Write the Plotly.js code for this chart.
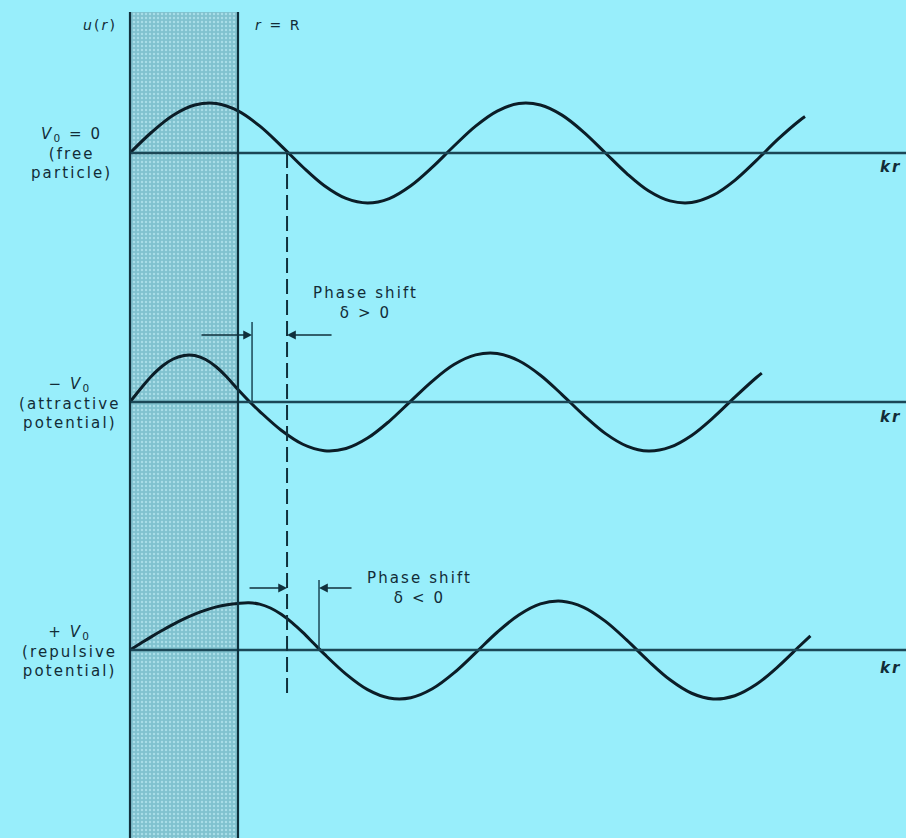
<!DOCTYPE html>
<html>
<head>
<meta charset="utf-8">
<script src="https://cdn.plot.ly/plotly-3.0.1.min.js"></script>
<style>
  html, body { margin: 0; padding: 0; background: #98eefb; }
  #chart { width: 906px; height: 838px; }
  .annotation-text { letter-spacing: 2.1px; }
</style>
</head>
<body>
<div id="chart"></div>
<script>
// kr in arbitrary units (R = 10), u(r) in amplitude units
const krFree = [0,2,4,6,8,10,12,14,16,18,20,22,24,26,28,30,32,34,36,38,40,42,44,46,48,50,52,54,56,58,60,62,62.5];
const uFree  = [0,0.415,0.755,0.959,0.990,0.842,0.542,0.144,-0.280,-0.655,-0.909,-1.000,-0.911,-0.655,-0.283,0.140,0.538,0.839,0.989,0.960,0.758,0.419,0.005,-0.411,-0.755,-0.958,-0.990,-0.844,-0.546,-0.148,0.276,0.650,0.728];

const krAttr = [0,1,2,3,4,5,5.5,6,7,8,9,10,11.1,12,14,16,18,20,22,24,26,28,30,32,34,36,38,40,42,44,46,48,50,52,54,56,58,58.5];
const uAttr  = [0,0.27,0.52,0.72,0.86,0.93,0.94,0.93,0.85,0.70,0.49,0.25,0,-0.186,-0.565,-0.845,-0.974,-0.931,-0.722,-0.386,0.018,0.419,0.749,0.942,0.970,0.825,0.536,0.149,-0.262,-0.627,-0.881,-0.980,-0.904,-0.668,-0.313,0.097,0.490,0.577];

const krRep = [0,1,2,3,4,5,6,7,8,9,10,11,12,13,14,15,16,17,18,20,22,24,26,28,30,32,34,36,38,40,42,44,46,48,50,52,54,56,58,60,62,63];
const uRep  = [0,0.135,0.268,0.394,0.514,0.622,0.718,0.799,0.862,0.905,0.932,0.945,0.918,0.840,0.714,0.548,0.351,0.134,-0.084,-0.482,-0.793,-0.960,-0.955,-0.776,-0.458,-0.057,0.355,0.700,0.922,0.976,0.854,0.577,0.197,-0.220,-0.596,-0.865,-0.978,-0.914,-0.686,-0.332,0.080,0.284];

const R = 10;           // r = R boundary
const krDashed = 14.54; // first node of the free-particle wave
const krNodeAttr = 11.3;
const krNodeRep = 17.5;

// vertical placement of the three panels (baselines)
const base = [0, -4.98, -9.94];
const yTop = 2.82, yBot = -13.8;
const xMin = -12.037, xMax = 71.85;

const curveColor = '#0b1d27';
const lineColor = '#1b4756';
const textColor = '#122c37';

function shift(arr, off) { return arr.map(v => v + off); }

const traces = [
  {
    type: 'bar', x: [R / 2], width: [R], base: [yBot], y: [yTop - yBot],
    marker: { color: '#80c2cf', line: { width: 0 },
      pattern: { shape: '.', fillmode: 'replace', bgcolor: '#80c2cf', fgcolor: '#a8dde7', size: 4, solidity: 0.3 } },
    hoverinfo: 'skip', showlegend: false
  },
  { type: 'scatter', mode: 'lines', x: krFree, y: shift(uFree, base[0]),
    line: { color: curveColor, width: 3, shape: 'spline' }, hoverinfo: 'skip', showlegend: false },
  { type: 'scatter', mode: 'lines', x: krAttr, y: shift(uAttr, base[1]),
    line: { color: curveColor, width: 3, shape: 'spline' }, hoverinfo: 'skip', showlegend: false },
  { type: 'scatter', mode: 'lines', x: krRep, y: shift(uRep, base[2]),
    line: { color: curveColor, width: 3, shape: 'spline' }, hoverinfo: 'skip', showlegend: false }
];

const shapes = [];
base.forEach(b => shapes.push({ type: 'line', xref: 'x', yref: 'y', x0: 0, x1: xMax, y0: b, y1: b,
  line: { color: lineColor, width: 2.5 } }));
shapes.push({ type: 'line', x0: 0, x1: 0, y0: yTop, y1: yBot, line: { color: '#10303c', width: 2.2 } });
shapes.push({ type: 'line', x0: R, x1: R, y0: yTop, y1: yBot, line: { color: '#10303c', width: 2.2 } });
shapes.push({ type: 'line', x0: krDashed, x1: krDashed, y0: base[0], y1: -10.9,
  line: { color: '#10303c', width: 2, dash: '15px,6px' } });
shapes.push({ type: 'line', x0: krNodeAttr, x1: krNodeAttr, y0: -3.38, y1: base[1], line: { color: lineColor, width: 1.5 } });
shapes.push({ type: 'line', x0: krNodeRep, x1: krNodeRep, y0: -8.54, y1: base[2], line: { color: lineColor, width: 1.5 } });

const F = 'DejaVu Sans, Liberation Sans, sans-serif';
function lbl(text, x, y, opts) {
  return Object.assign({ text: text, x: x, y: y, xref: 'x', yref: 'y', showarrow: false,
    font: { family: F, size: 15, color: textColor }, align: 'center' }, opts || {});
}
function arrow(x, y, ax) {
  return { x: x, y: y, ax: ax, ay: y, xref: 'x', yref: 'y', axref: 'x', ayref: 'y', text: '',
    showarrow: true, arrowhead: 2, arrowsize: 1.1, arrowwidth: 1.6, arrowcolor: '#10303c', standoff: 0 };
}

const annotations = [
  lbl('<i>u</i>(<i>r</i>)', -1.0, 2.56, { xanchor: 'right', font: { family: F, size: 14, color: textColor } }),
  lbl('<i>r</i> = R', 11.4, 2.56, { xanchor: 'left', font: { family: F, size: 14, color: textColor } }),
  lbl('<i>V</i><sub>0</sub> = 0<br>(free<br>particle)', -5.4, 0.0),
  lbl('− <i>V</i><sub>0</sub><br>(attractive<br>potential)', -5.6, -5.0),
  lbl('+ <i>V</i><sub>0</sub><br>(repulsive<br>potential)', -5.6, -9.96),
  lbl('<b><i>kr</i></b>', 69.3, -0.28, { xanchor: 'left' }),
  lbl('<b><i>kr</i></b>', 69.3, -5.28, { xanchor: 'left' }),
  lbl('<b><i>kr</i></b>', 69.3, -10.3, { xanchor: 'left' }),
  lbl('Phase shift<br>δ > 0', 21.76, -3.0),
  lbl('Phase shift<br>δ &lt; 0', 26.85, -8.7),
  arrow(krNodeAttr, -3.64, 6.48),
  arrow(krDashed, -3.64, 18.8),
  arrow(krDashed, -8.7, 10.93),
  arrow(krNodeRep, -8.7, 20.65)
];

const layout = {
  width: 906, height: 838, autosize: false,
  margin: { l: 0, r: 0, t: 0, b: 0, pad: 0 },
  paper_bgcolor: '#98eefb', plot_bgcolor: '#98eefb',
  xaxis: { range: [xMin, xMax], visible: false, fixedrange: true },
  yaxis: { range: [yBot + 0.1, 3.06], visible: false, fixedrange: true },
  shapes: shapes, annotations: annotations, showlegend: false
};

Plotly.newPlot('chart', traces, layout, { staticPlot: true, displayModeBar: false });
</script>
</body>
</html>
